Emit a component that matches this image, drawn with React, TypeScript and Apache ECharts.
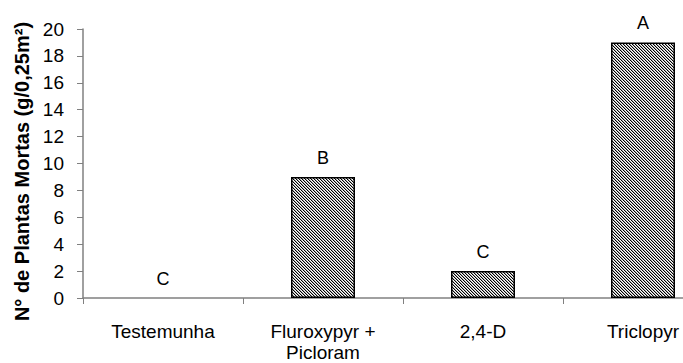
import React, { useEffect, useRef } from "react";
import * as echarts from "echarts";

const categories = ["Testemunha", "Fluroxypyr +\nPicloram", "2,4-D", "Triclopyr"];
const values = [0, 9, 2, 19];
const letters = ["C", "B", "C", "A"];
const yAxisName = "N° de Plantas Mortas (g/0,25m²)";

function makeHatch(): HTMLCanvasElement {
  const c = document.createElement("canvas");
  c.width = 3;
  c.height = 3;
  const ctx = c.getContext("2d")!;
  ctx.fillStyle = "#ffffff";
  ctx.fillRect(0, 0, 3, 3);
  for (let i = 0; i < 3; i++) {
    ctx.fillStyle = "#000000";
    ctx.fillRect(i, i, 1, 1);
    ctx.fillStyle = "#aaaaaa";
    ctx.fillRect((i + 1) % 3, i, 1, 1);
  }
  return c;
}

const FONT = "Liberation Sans, Arial, sans-serif";

export default function App() {
  const ref = useRef<HTMLDivElement>(null);
  useEffect(() => {
    if (!ref.current) return;
    const chart = echarts.init(ref.current, undefined, { renderer: "svg" });
    const hatch = makeHatch();
    chart.setOption({
      animation: false,
      backgroundColor: "#ffffff",
      grid: { left: 83, top: 29, right: 7, bottom: 61 },
      xAxis: {
        type: "category",
        data: categories,
        axisLine: { show: true, lineStyle: { color: "#808080", width: 1.5 } },
        axisTick: { show: true, interval: 0, length: 6, lineStyle: { color: "#808080" } },
        axisLabel: {
          interval: 0,
          color: "#000",
          fontFamily: FONT,
          fontSize: 19,
          lineHeight: 21,
          margin: 23,
        },
      },
      yAxis: {
        type: "value",
        min: 0,
        max: 20,
        interval: 2,
        name: yAxisName,
        nameLocation: "middle",
        nameRotate: 90,
        nameGap: 47,
        nameTextStyle: {
          color: "#000",
          fontWeight: "bold",
          fontSize: 20,
          fontFamily: FONT,
          padding: [0, 16, 0, 0],
        },
        axisLine: { show: true, lineStyle: { color: "#808080", width: 1.5 } },
        axisTick: { show: true, length: 6, lineStyle: { color: "#808080" } },
        splitLine: { show: false },
        axisLabel: {
          color: "#000",
          fontFamily: FONT,
          fontSize: 19,
          margin: 19,
        },
      },
      series: [
        {
          type: "bar",
          data: values.map((v) => ({
            value: v,
            itemStyle: v === 0 ? { borderWidth: 0, opacity: 0 } : undefined,
          })),
          barWidth: 64,
          itemStyle: {
            color: { image: hatch, repeat: "repeat" },
            borderColor: "#000",
            borderWidth: 1.5,
          },
          label: {
            show: true,
            position: "top",
            distance: 10,
            color: "#000",
            opacity: 1,
            fontFamily: FONT,
            fontSize: 18,
            formatter: (p: any) => letters[p.dataIndex],
          },
        },
      ],
    });
    return () => chart.dispose();
  }, []);
  return (
    <div
      style={{
        position: "absolute",
        left: 0,
        top: 0,
        width: 683,
        height: 363,
        overflow: "hidden",
        background: "#fff",
      }}
    >
      <div ref={ref} style={{ width: 730, height: 363 }} />
    </div>
  );
}
